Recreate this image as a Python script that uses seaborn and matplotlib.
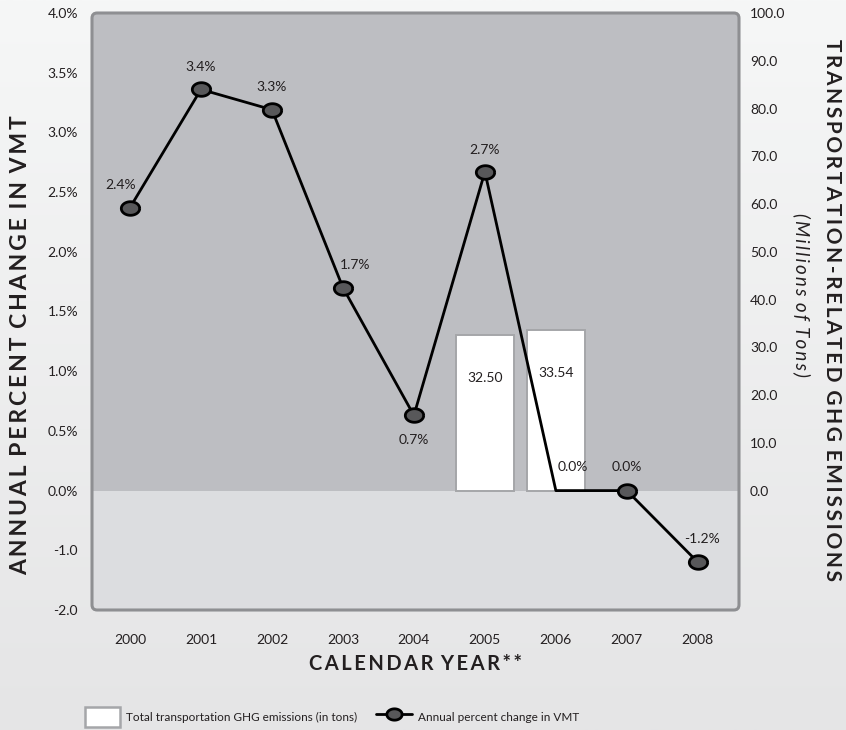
import numpy as np
import pandas as pd
import matplotlib
matplotlib.use("Agg")
import matplotlib.pyplot as plt
import seaborn as sns
from matplotlib.patches import FancyBboxPatch, Patch
from matplotlib.lines import Line2D
from matplotlib.colors import LinearSegmentedColormap

# ---------------- data ----------------
years = ["2000", "2001", "2002", "2003", "2004", "2005", "2006", "2007", "2008"]
vmt_change = [2.37, 3.36, 3.19, 1.70, 0.63, 2.67, 0.0, 0.0, -1.2]
vmt_labels = ["2.4%", "3.4%", "3.3%", "1.7%", "0.7%", "2.7%", "0.0%", "0.0%", "-1.2%"]
ghg_years = ["2005", "2006"]
ghg_values = [32.50, 33.54]
ghg_labels = ["32.50", "33.54"]
left_ticks = [-2.0, -1.0, 0.0, 0.5, 1.0, 1.5, 2.0, 2.5, 3.0, 3.5, 4.0]
left_ticklabels = ["-2.0", "-1.0", "0.0%", "0.5%", "1.0%", "1.5%", "2.0%", "2.5%",
                   "3.0%", "3.5%", "4.0%"]
right_ticks = [0, 10, 20, 30, 40, 50, 60, 70, 80, 90, 100]

sns.set_theme(style="white")
plt.rcParams["font.family"] = ["Lato", "DejaVu Sans"]
TXT = "#231f20"

fig = plt.figure(figsize=(8.46, 7.30), dpi=100)

# background gradient
bg = fig.add_axes([0, 0, 1, 1], zorder=-10)
cmap = LinearSegmentedColormap.from_list("bg", ["#f6f7f7", "#e5e5e6"])
bg.imshow(np.linspace(0, 1, 256).reshape(-1, 1), aspect="auto", cmap=cmap,
          extent=[0, 1, 0, 1])
bg.set_axis_off()

W, H = 846, 730
L, R, B, T = 92, 739, 610, 13
ax_bar = fig.add_axes([L / W, (H - B) / H, (R - L) / W, (B - T) / H])
ax_bar.patch.set_visible(False)

# rounded frame and shaded regions
frame = FancyBboxPatch((0, 0), 1, 1, boxstyle="round,pad=0,rounding_size=0.008",
                       mutation_aspect=(R - L) / (B - T),
                       transform=ax_bar.transAxes, facecolor="none",
                       edgecolor="#8e8f92", lw=2.2, clip_on=False, zorder=10)
ax_bar.add_patch(frame)
up = ax_bar.axhspan(0, 100, color="#bdbec2", zorder=0, lw=0)
lo = ax_bar.axhspan(-25, 0, color="#dcdde0", zorder=0, lw=0)
for p in (up, lo):
    p.set_clip_path(frame)

# bars (right axis)
df_bar = pd.DataFrame({"year": ghg_years, "ghg": ghg_values})
sns.barplot(data=df_bar, x="year", y="ghg", order=years, ax=ax_bar,
            color="white", width=0.82, edgecolor="#a5a6a9", linewidth=1.4,
            saturation=1, zorder=2)
for yr, v, lab in zip(ghg_years, ghg_values, ghg_labels):
    ax_bar.annotate(lab, (years.index(yr), v), xytext=(0, -31),
                    textcoords="offset points", ha="center", va="center",
                    fontsize=10, color=TXT, zorder=5)

ax_bar.set_xlim(-0.535, 8.58)
ax_bar.set_ylim(-25, 100)
ax_bar.set_xlabel("")
ax_bar.set_ylabel("")
for s in ax_bar.spines.values():
    s.set_visible(False)

# line (left axis)
ax_line = ax_bar.twinx()
fwd = lambda v: np.where(np.asarray(v) < 0, np.asarray(v) * 0.5, np.asarray(v))
inv = lambda p: np.where(np.asarray(p) < 0, np.asarray(p) * 2.0, np.asarray(p))
ax_line.set_yscale("function", functions=(fwd, inv))
ax_line.set_ylim(-2, 4)
xpos = np.arange(len(years))
df_line = pd.DataFrame({"x": xpos, "vmt": vmt_change})
sns.lineplot(data=df_line, x="x", y="vmt", ax=ax_line, color="black", lw=2.0,
             zorder=3)
mask = np.array([y != "2006" for y in years])
t = np.linspace(0, 2 * np.pi, 60)
ell = np.column_stack([1.35 * np.cos(t), np.sin(t)])
ax_line.scatter(xpos[mask], np.array(vmt_change)[mask], marker=ell, s=175,
                facecolor="#58585a", edgecolor="black", linewidths=2.0, zorder=4)
offsets = [(-7, 16), (0, 16), (0, 16), (9, 16), (0, -18), (0, 16), (12, 17),
           (0, 17), (3, 17)]
for x, v, lab, off in zip(xpos, vmt_change, vmt_labels, offsets):
    ax_line.annotate(lab, (x, v), xytext=off, textcoords="offset points",
                     ha="center", va="center", fontsize=10, color=TXT, zorder=5)

ax_line.set_xlabel("")
ax_line.set_ylabel("")
for s in ax_line.spines.values():
    s.set_visible(False)

# axis sides (set after twinx, which resets them)
ax_line.yaxis.tick_left()
ax_line.set_yticks(left_ticks)
ax_line.set_yticklabels(left_ticklabels)
ax_line.tick_params(axis="y", length=0, pad=10, labelsize=10, labelcolor=TXT)
ax_bar.yaxis.tick_right()
ax_bar.set_yticks(right_ticks)
ax_bar.set_yticklabels([f"{t:.1f}" for t in right_ticks])
ax_bar.tick_params(axis="y", length=0, pad=8, labelsize=10, labelcolor=TXT,
                   labelleft=False, labelright=True)
ax_bar.tick_params(axis="x", length=0, pad=17, labelsize=10, labelcolor=TXT)
ax_line.tick_params(axis="y", labelleft=True, labelright=False)

def spaced(s, gap="\u2009"):
    return (gap * 3).join(gap.join(w) for w in s.split(" "))

fig.text(21 / W, 1 - 345 / H, spaced("ANNUAL PERCENT CHANGE IN VMT"),
         rotation=90, ha="center", va="center", fontsize=16.5,
         fontweight="bold", color=TXT)
fig.text(832 / W, 1 - 310 / H, spaced("TRANSPORTATION-RELATED GHG EMISSIONS"),
         rotation=-90, ha="center", va="center", fontsize=15,
         fontweight="bold", color=TXT)
fig.text(802 / W, 1 - 295 / H, spaced("(Millions of Tons)"), rotation=-90,
         ha="center", va="center", fontsize=13.5, style="italic", color=TXT)
fig.text(415 / W, 1 - 664 / H, spaced("CALENDAR YEAR**"), ha="center",
         va="center", fontsize=14.5, fontweight="bold", color=TXT)

handles = [Patch(facecolor="white", edgecolor="#a5a6a9", lw=1.8),
           Line2D([0], [0], color="black", lw=2.0, marker=ell, markersize=11,
                  markerfacecolor="#58585a", markeredgecolor="black",
                  markeredgewidth=2.0)]
leg = fig.legend(handles, ["Total transportation GHG emissions (in tons)",
                           "Annual percent change in VMT"],
                 loc="center", bbox_to_anchor=(332 / W, 1 - 717 / H), ncol=2,
                 frameon=False, handlelength=3.0, handleheight=2.3,
                 columnspacing=1.6, handletextpad=0.5, labelcolor=TXT,
                 prop={"family": ["Lato", "DejaVu Sans"], "size": 8.5})

fig.savefig("out.png", dpi=100)
